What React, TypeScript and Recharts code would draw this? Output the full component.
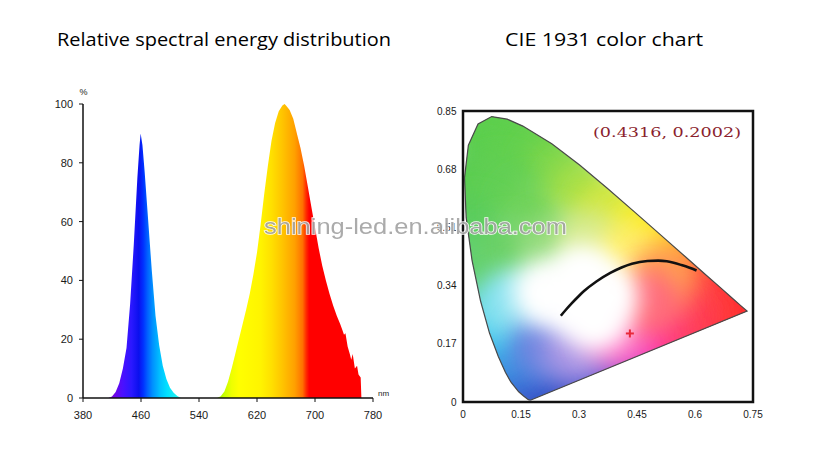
import React from 'react';
import { ComposedChart, Area, XAxis, YAxis, Scatter, ReferenceArea } from 'recharts';

// ---------- Left chart: relative spectral energy distribution ----------
const nmTicks = [380, 460, 540, 620, 700, 780];
const pctTicks = [0, 20, 40, 60, 80, 100];

const blueEmission = [
  { nm: 415, value: 0 }, { nm: 420, value: 0.5 }, { nm: 425, value: 2 }, { nm: 430, value: 5 },
  { nm: 435, value: 10 }, { nm: 440, value: 17 }, { nm: 445, value: 32 }, { nm: 450, value: 52 },
  { nm: 455, value: 75 }, { nm: 458, value: 86 }, { nm: 459.5, value: 90 }, { nm: 462, value: 86 },
  { nm: 465, value: 77 }, { nm: 470, value: 60 }, { nm: 475, value: 43 }, { nm: 480, value: 28 },
  { nm: 485, value: 18 }, { nm: 490, value: 11 }, { nm: 495, value: 6.5 }, { nm: 500, value: 3.5 },
  { nm: 505, value: 1.8 }, { nm: 510, value: 0.7 }, { nm: 515, value: 0 },
];

const redEmission = [
  { nm: 565, value: 0 }, { nm: 570, value: 0.6 }, { nm: 575, value: 2.2 }, { nm: 580, value: 5.5 },
  { nm: 585, value: 10 }, { nm: 590, value: 15 }, { nm: 595, value: 20 }, { nm: 600, value: 25 },
  { nm: 605, value: 30 }, { nm: 610, value: 35.5 }, { nm: 615, value: 42 }, { nm: 620, value: 49.5 },
  { nm: 625, value: 59 }, { nm: 630, value: 69.5 }, { nm: 635, value: 79 }, { nm: 640, value: 87.5 },
  { nm: 645, value: 93.5 }, { nm: 650, value: 97.5 }, { nm: 655, value: 99.5 }, { nm: 658, value: 100 },
  { nm: 660, value: 99.5 }, { nm: 665, value: 98 }, { nm: 670, value: 95 }, { nm: 675, value: 90 },
  { nm: 680, value: 85 }, { nm: 685, value: 79 }, { nm: 690, value: 72 }, { nm: 695, value: 65 },
  { nm: 700, value: 58 }, { nm: 705, value: 51 }, { nm: 710, value: 45 }, { nm: 715, value: 40 },
  { nm: 720, value: 35.5 }, { nm: 725, value: 31.5 }, { nm: 730, value: 28 }, { nm: 735, value: 25 },
  { nm: 738, value: 23 }, { nm: 740, value: 21.5 }, { nm: 742, value: 22 }, { nm: 745, value: 17.5 },
  { nm: 748, value: 15 }, { nm: 750, value: 13 }, { nm: 752, value: 15 }, { nm: 755, value: 10 },
  { nm: 758, value: 11 }, { nm: 760, value: 8 }, { nm: 763, value: 7 }, { nm: 764, value: 0 },
];

const spectrumTable = [
  { nm: 380, value: 0 },
  ...blueEmission,
  ...redEmission,
  { nm: 780, value: 0 },
];

// ---------- Right chart: CIE 1931 ----------
const cieXTicks = [0, 0.15, 0.3, 0.45, 0.6, 0.75];
const cieYTicks = [0, 0.17, 0.34, 0.51, 0.68, 0.85];

const spectralLocus = [
  { nm: 380, x: 0.1741, y: 0.005 }, { nm: 430, x: 0.1689, y: 0.0069 }, { nm: 450, x: 0.1566, y: 0.0177 },
  { nm: 460, x: 0.144, y: 0.0297 }, { nm: 470, x: 0.1241, y: 0.0578 }, { nm: 475, x: 0.1096, y: 0.0868 },
  { nm: 480, x: 0.0913, y: 0.1327 }, { nm: 485, x: 0.0687, y: 0.2007 }, { nm: 490, x: 0.0454, y: 0.295 },
  { nm: 495, x: 0.0235, y: 0.4127 }, { nm: 500, x: 0.0082, y: 0.5384 }, { nm: 505, x: 0.0039, y: 0.6548 },
  { nm: 510, x: 0.0139, y: 0.7502 }, { nm: 515, x: 0.0389, y: 0.812 }, { nm: 520, x: 0.0743, y: 0.8338 },
  { nm: 525, x: 0.1142, y: 0.8262 }, { nm: 530, x: 0.1547, y: 0.8059 }, { nm: 540, x: 0.2296, y: 0.7543 },
  { nm: 550, x: 0.3016, y: 0.6923 }, { nm: 560, x: 0.3731, y: 0.6245 }, { nm: 570, x: 0.4441, y: 0.5547 },
  { nm: 580, x: 0.5125, y: 0.4866 }, { nm: 590, x: 0.5752, y: 0.4242 }, { nm: 600, x: 0.627, y: 0.3725 },
  { nm: 610, x: 0.6658, y: 0.334 }, { nm: 620, x: 0.6915, y: 0.3083 }, { nm: 640, x: 0.719, y: 0.2809 },
  { nm: 700, x: 0.7347, y: 0.2653 },
];
const locusClosed = [...spectralLocus, spectralLocus[0]];

const planckianLocus = [
  { x: 0.253, y: 0.252 }, { x: 0.265, y: 0.268 }, { x: 0.281, y: 0.288 }, { x: 0.299, y: 0.309 },
  { x: 0.313, y: 0.324 }, { x: 0.345, y: 0.352 }, { x: 0.381, y: 0.377 }, { x: 0.41, y: 0.393 },
  { x: 0.437, y: 0.404 }, { x: 0.477, y: 0.412 }, { x: 0.505, y: 0.413 }, { x: 0.527, y: 0.411 },
  { x: 0.565, y: 0.4 }, { x: 0.586, y: 0.392 }, { x: 0.604, y: 0.384 },
];

const chromaticityPoint = [{ x: 0.4316, y: 0.2002 }];

// colour samples of the diagram fill
const colorField = [
  { x: 0.05, y: 0.8, color: '#5ccf4e' }, { x: 0.12, y: 0.82, color: '#5ecf4c' },
  { x: 0.2, y: 0.76, color: '#6ad24c' }, { x: 0.01, y: 0.58, color: '#56cb56' },
  { x: 0.08, y: 0.76, color: '#5ccf4e' }, { x: 0.03, y: 0.66, color: '#58cc50' },
  { x: 0.15, y: 0.72, color: '#62d04e' }, { x: 0.24, y: 0.68, color: '#7cd64c' },
  { x: 0.1, y: 0.62, color: '#60cf52' }, { x: 0.03, y: 0.5, color: '#5acd5c' },
  { x: 0.18, y: 0.56, color: '#6cd256' }, { x: 0.3, y: 0.62, color: '#a0de48' },
  { x: 0.37, y: 0.56, color: '#cce63e' }, { x: 0.44, y: 0.5, color: '#f0ec28' },
  { x: 0.5, y: 0.46, color: '#ffe814' }, { x: 0.56, y: 0.41, color: '#ffc020' },
  { x: 0.61, y: 0.36, color: '#ff8030' }, { x: 0.66, y: 0.31, color: '#ff4436' },
  { x: 0.71, y: 0.28, color: '#ff2c2c' }, { x: 0.64, y: 0.27, color: '#ff3636' },
  { x: 0.58, y: 0.3, color: '#ff4444' }, { x: 0.58, y: 0.23, color: '#ff3a50' },
  { x: 0.53, y: 0.26, color: '#ff4258' }, { x: 0.5, y: 0.2, color: '#ff3a74' },
  { x: 0.44, y: 0.16, color: '#ff30a4' }, { x: 0.39, y: 0.12, color: '#e03cc8' },
  { x: 0.33, y: 0.09, color: '#8a48d4' }, { x: 0.27, y: 0.07, color: '#4a50cc' },
  { x: 0.19, y: 0.04, color: '#3548c0' }, { x: 0.15, y: 0.09, color: '#3560d0' },
  { x: 0.11, y: 0.14, color: '#3890e0' }, { x: 0.07, y: 0.22, color: '#40c0ec' },
  { x: 0.04, y: 0.3, color: '#58d6ec' }, { x: 0.03, y: 0.4, color: '#60d070' },
  { x: 0.12, y: 0.44, color: '#68d064' }, { x: 0.22, y: 0.46, color: '#90da78' },
  { x: 0.33, y: 0.47, color: '#d4ea88' }, { x: 0.43, y: 0.43, color: '#fff06a' },
  { x: 0.52, y: 0.37, color: '#ffa050' }, { x: 0.12, y: 0.29, color: '#88e2f0' },
  { x: 0.21, y: 0.16, color: '#6a86e0' }, { x: 0.29, y: 0.15, color: '#a894e4' },
  { x: 0.4, y: 0.2, color: '#ff70c4' }, { x: 0.48, y: 0.29, color: '#ff6c7c' },
  { x: 0.21, y: 0.32, color: '#ffffff' }, { x: 0.29, y: 0.3, color: '#ffffff' },
  { x: 0.37, y: 0.31, color: '#ffffff' }, { x: 0.31, y: 0.37, color: '#ffffff' },
  { x: 0.34, y: 0.24, color: '#ffffff' },
];

const spectrumStops: [number, string][] = [
  [380, '#7a00e0'], [420, '#7a00e0'], [435, '#4a10ff'], [447, '#2a18ff'], [457, '#0a10ee'],
  [463, '#0030ff'], [469, '#0060ff'], [476, '#0090ff'], [486, '#00c0ff'], [496, '#00e0ff'],
  [510, '#20f0f0'], [565, '#90f000'], [575, '#c8ff00'], [585, '#eeff00'], [595, '#ffff00'],
  [625, '#fff400'], [640, '#ffe000'], [655, '#ffc400'], [672, '#ffa000'], [683, '#ff7000'],
  [688, '#ff2a00'], [692, '#ff0000'], [780, '#ff0000'],
];

const tickFont = { fontFamily: '"Liberation Sans", Arial, sans-serif' };

function toPath(points: { x: number; y: number }[]) {
  return points.map((p, i) => `${i === 0 ? 'M' : 'L'}${p.x},${p.y}`).join(' ') + ' Z';
}

const LocusFill = (props: any) => {
  const d = toPath(props.points || []);
  return (
    <g>
      <defs>
        <clipPath id="locusClip">
          <path d={d} />
        </clipPath>
      </defs>
      <path d={d} fill="#ffffff" stroke="none" />
    </g>
  );
};

const Blob = (props: any) => {
  const c = props.payload?.color || '#fff';
  return (
    <g clipPath="url(#locusClip)">
      <circle cx={props.cx} cy={props.cy} r={33} fill={c} filter="url(#blobBlur)" />
    </g>
  );
};

const Empty = () => <g />;

const Cross = (props: any) => (
  <g stroke="#e8283a" strokeWidth={2}>
    <line x1={props.cx - 4} y1={props.cy} x2={props.cx + 4} y2={props.cy} />
    <line x1={props.cx} y1={props.cy - 4} x2={props.cx} y2={props.cy + 4} />
  </g>
);

export default function App() {
  const pt = chromaticityPoint[0];
  return (
    <div style={{ position: 'absolute', left: 0, top: 0, width: 830, height: 453, background: '#fff', overflow: 'hidden' }}>
      <div style={{ position: 'absolute', left: 0, top: 0 }}>
        <ComposedChart width={420} height={453} data={spectrumTable} margin={{ top: 104, right: 47, bottom: 0, left: 0 }}>
          <defs>
            <linearGradient id="specGrad" x1="0" y1="0" x2="1" y2="0">
              {spectrumStops.map(([nm, c]) => (
                <stop key={nm} offset={(nm - 380) / 400} stopColor={c} />
              ))}
            </linearGradient>
          </defs>
          <XAxis
            dataKey="nm"
            type="number"
            domain={[380, 780]}
            ticks={nmTicks}
            height={55}
            tickSize={4}
            tickMargin={9}
            stroke="#111"
            axisLine={{ stroke: '#111', strokeWidth: 1.5 }}
            tick={{ fill: '#1a1a1a', fontSize: 11, ...tickFont }}
            interval={0}
          />
          <YAxis
            type="number"
            domain={[0, 100]}
            ticks={pctTicks}
            width={83}
            tickSize={4}
            tickMargin={6}
            stroke="#111"
            axisLine={{ stroke: '#111', strokeWidth: 1.5 }}
            tick={{ fill: '#1a1a1a', fontSize: 11, ...tickFont }}
            interval={0}
          />
          <Area
            type="linear"
            dataKey="value"
            stroke="none"
            fill="url(#specGrad)"
            fillOpacity={1}
            isAnimationActive={false}
            dot={false}
            activeDot={false}
          />
        </ComposedChart>
      </div>
      <div style={{ position: 'absolute', left: 420, top: 0 }}>
        <ComposedChart width={410} height={453} margin={{ top: 111, right: 77, bottom: 0, left: 0 }}>
          <defs>
            <filter id="blobBlur" x="-80%" y="-80%" width="260%" height="260%">
              <feGaussianBlur stdDeviation="12" />
            </filter>
          </defs>
          <XAxis
            dataKey="x"
            type="number"
            domain={[0, 0.75]}
            ticks={cieXTicks}
            height={51}
            axisLine={false}
            tickLine={false}
            tickSize={4}
            tickMargin={4.5}
            tick={{ fill: '#1a1a1a', fontSize: 10, ...tickFont }}
            interval={0}
          />
          <YAxis
            dataKey="y"
            type="number"
            domain={[0, 0.85]}
            ticks={cieYTicks}
            width={43}
            axisLine={false}
            tickLine={false}
            tickSize={2}
            tickMargin={4.5}
            tick={{ fill: '#1a1a1a', fontSize: 10, ...tickFont }}
            interval={0}
          />
          <Scatter data={locusClosed} shape={Empty} line={LocusFill} isAnimationActive={false} />
          <Scatter data={colorField} shape={Blob} isAnimationActive={false} />
          <Scatter
            data={locusClosed}
            shape={Empty}
            line={{ stroke: '#4a4a4a', strokeWidth: 1.2, fill: 'none' }}
            isAnimationActive={false}
          />
          <Scatter
            data={planckianLocus}
            shape={Empty}
            line={{ stroke: '#111', strokeWidth: 2.6, fill: 'none' }}
            lineJointType="monotoneX"
            isAnimationActive={false}
          />
          <Scatter data={chromaticityPoint} shape={Cross} isAnimationActive={false} />
          <ReferenceArea x1={0} x2={0.75} y1={0} y2={0.85} fill="none" stroke="#111" strokeWidth={2.5} ifOverflow="visible" />
        </ComposedChart>
      </div>
      <svg width={830} height={453} style={{ position: 'absolute', left: 0, top: 0, pointerEvents: 'none' }}>
        <text x={57} y={46} fontSize={18} fontWeight={500} fill="#000" fontFamily='"Open Sans", "Noto Sans", sans-serif' textLength={334} lengthAdjust="spacingAndGlyphs">
          Relative spectral energy distribution
        </text>
        <text x={505} y={46} fontSize={18} fontWeight={500} fill="#000" fontFamily='"Open Sans", "Noto Sans", sans-serif' textLength={198} lengthAdjust="spacingAndGlyphs">
          CIE 1931 color chart
        </text>
        <text x={83.5} y={95} fontSize={9} fill="#222" textAnchor="middle" fontFamily='"Liberation Sans", Arial, sans-serif'>%</text>
        <text x={378} y={396} fontSize={8} fill="#222" fontFamily='"Liberation Sans", Arial, sans-serif'>nm</text>
        <text x={593} y={137} fontSize={13} fill="#8b1f2e" fontFamily='"DejaVu Serif", "Liberation Serif", serif' textLength={148} lengthAdjust="spacingAndGlyphs">
          {`(${pt.x.toFixed(4)}, ${pt.y.toFixed(4)})`}
        </text>
        <text x={264} y={234} fontSize={22} fill="#a4a4a4" stroke="#ffffff" strokeWidth={1.5} paintOrder="stroke" opacity={0.92} fontFamily='"Liberation Sans", Arial, sans-serif' textLength={303} lengthAdjust="spacingAndGlyphs">
          shining-led.en.alibaba.com
        </text>
      </svg>
    </div>
  );
}
